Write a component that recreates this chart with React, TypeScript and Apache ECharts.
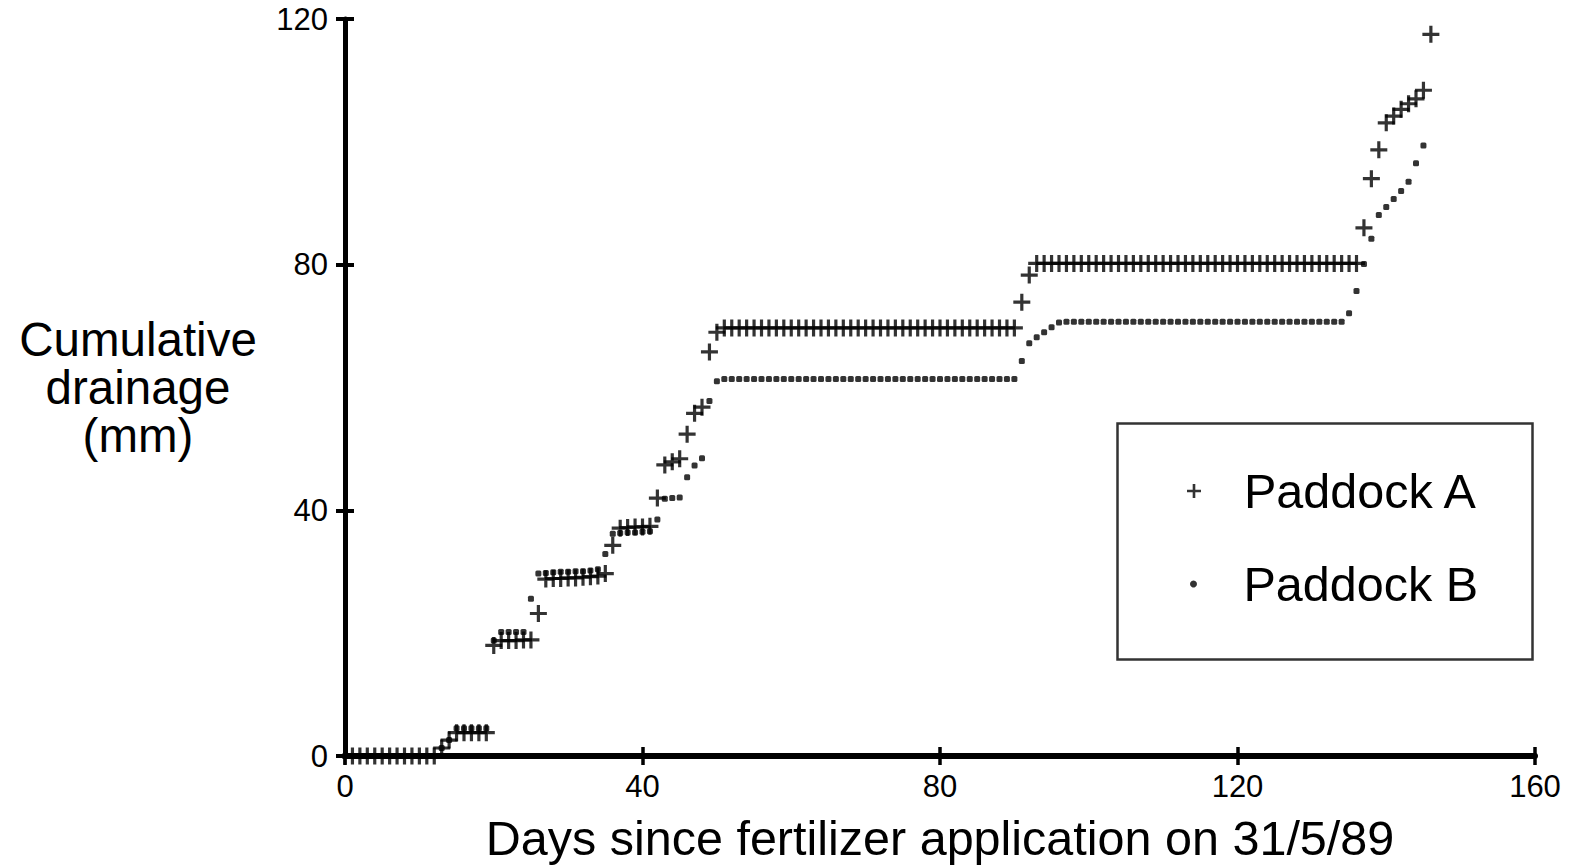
import React, { useEffect, useRef } from "react";
import * as echarts from "echarts";

const seriesNames = ["Paddock A", "Paddock B"];
const xTickValues = [0, 40, 80, 120, 160];
const yTickValues = [0, 40, 80, 120];
const xTitle = "Days since fertilizer application on 31/5/89";
const yTitleLines = ["Cumulative", "drainage", "(mm)"];

// Cumulative drainage (mm), one value per day starting at day 0
const valuesA = [
  0, 0, 0, 0, 0, 0, 0, 0, 0, 0, 0, 0, 0,
  1.3, 2.6,
  3.8, 3.8, 3.8, 3.8, 3.8,
  18.0,
  18.8, 18.8, 18.8, 18.9, 18.9,
  23.2,
  28.8, 28.9, 28.9, 29.0, 29.0, 29.1, 29.2, 29.3, 29.7,
  34.3,
  37.1, 37.2, 37.3, 37.3, 37.4,
  42.0, 47.4, 47.9, 48.4, 52.4, 55.8, 56.8, 65.8, 69.0,
  69.7, 69.7, 69.7, 69.7, 69.7, 69.7, 69.7, 69.7, 69.7, 69.7,
  69.7, 69.7, 69.7, 69.7, 69.7, 69.7, 69.7, 69.7, 69.7, 69.7,
  69.7, 69.7, 69.7, 69.7, 69.7, 69.7, 69.7, 69.7, 69.7, 69.7,
  69.7, 69.7, 69.7, 69.7, 69.7, 69.7, 69.7, 69.7, 69.7, 69.7,
  73.9, 78.3,
  80.2, 80.2, 80.2, 80.2, 80.2, 80.2, 80.2, 80.2, 80.2, 80.2, 80.2,
  80.2, 80.2, 80.2, 80.2, 80.2, 80.2, 80.2, 80.2, 80.2, 80.2, 80.2,
  80.2, 80.2, 80.2, 80.2, 80.2, 80.2, 80.2, 80.2, 80.2, 80.2, 80.2,
  80.2, 80.2, 80.2, 80.2, 80.2, 80.2, 80.2, 80.2, 80.2, 80.2, 80.2,
  86.0, 94.0, 98.7, 103.1, 104.2, 105.3, 106.2, 107.0, 108.4, 117.5,
];

const valuesB = [
  0, 0, 0, 0, 0, 0, 0, 0, 0, 0, 0, 0, 0,
  1.3, 2.6,
  4.5, 4.5, 4.5, 4.5, 4.5,
  18.8,
  20.2, 20.2, 20.2, 20.2,
  25.6,
  29.7, 29.8, 29.9, 30.0, 30.0, 30.1, 30.1, 30.2, 30.4,
  32.9,
  36.2, 36.3, 36.4, 36.4, 36.5, 36.6,
  38.5, 41.9, 42.0, 42.1, 45.4, 47.3, 48.5, 57.8, 61.0,
  61.4, 61.4, 61.4, 61.4, 61.4, 61.4, 61.4, 61.4, 61.4, 61.4,
  61.4, 61.4, 61.4, 61.4, 61.4, 61.4, 61.4, 61.4, 61.4, 61.4,
  61.4, 61.4, 61.4, 61.4, 61.4, 61.4, 61.4, 61.4, 61.4, 61.4,
  61.4, 61.4, 61.4, 61.4, 61.4, 61.4, 61.4, 61.4, 61.4, 61.4,
  64.3, 67.2, 68.2, 69.0, 69.8, 70.6,
  70.7, 70.7, 70.7, 70.7, 70.7, 70.7, 70.7, 70.7, 70.7, 70.7,
  70.7, 70.7, 70.7, 70.7, 70.7, 70.7, 70.7, 70.7, 70.7, 70.7,
  70.7, 70.7, 70.7, 70.7, 70.7, 70.7, 70.7, 70.7, 70.7, 70.7,
  70.7, 70.7, 70.7, 70.7, 70.7, 70.7, 70.7, 70.7,
  72.1, 75.7, 80.1, 84.2, 88.1, 89.4, 90.7, 92.0, 93.5, 96.5, 99.4,
];

const PLUS = "path://M6.5,0H9.5V6.5H16V9.5H9.5V16H6.5V9.5H0V6.5H6.5Z";
const FONT = "'Liberation Sans', Arial, Helvetica, sans-serif";

export default function App() {
  const ref = useRef<HTMLDivElement>(null);
  useEffect(() => {
    document.body.style.margin = "0";
    const chart = echarts.init(ref.current as HTMLDivElement, null, { renderer: "svg" });
    const dataA = valuesA.map((v, i) => [i, v]);
    const dataB = valuesB.map((v, i) => [i, v]);
    const xMin = xTickValues[0];
    const xMax = xTickValues[xTickValues.length - 1];
    const xInt = xTickValues[1] - xTickValues[0];
    const yMin = yTickValues[0];
    const yMax = yTickValues[yTickValues.length - 1];
    const yInt = yTickValues[1] - yTickValues[0];

    chart.setOption({
      animation: false,
      backgroundColor: "#fff",
      textStyle: { fontFamily: FONT, color: "#000" },
      grid: { left: 345, right: 39, top: 19, bottom: 112, containLabel: false },
      xAxis: [
        {
          type: "value", min: xMin, max: xMax, interval: xInt, position: "bottom",
          axisLine: { show: true, lineStyle: { color: "#000", width: 6 } },
          axisTick: { show: true, length: 9, lineStyle: { color: "#000", width: 3.5 } },
          axisLabel: { fontSize: 31, margin: 15, color: "#000", fontFamily: FONT },
          splitLine: { show: false },
          name: xTitle, nameLocation: "middle", nameGap: 82,
          nameTextStyle: { fontSize: 48.5, color: "#000", fontFamily: FONT, verticalAlign: "middle" },
        },
        {
          type: "value", min: xMin, max: xMax, interval: xInt, position: "bottom",
          axisLine: { show: false },
          axisTick: { show: true, inside: true, length: 9, lineStyle: { color: "#000", width: 3.5 } },
          axisLabel: { show: false }, splitLine: { show: false },
        },
      ],
      yAxis: [
        {
          type: "value", min: yMin, max: yMax, interval: yInt, position: "left",
          axisLine: { show: true, lineStyle: { color: "#000", width: 5 } },
          axisTick: { show: true, length: 9, lineStyle: { color: "#000", width: 4 } },
          axisLabel: { fontSize: 31, margin: 17, color: "#000", fontFamily: FONT },
          splitLine: { show: false },
          name: yTitleLines.join("\n"), nameLocation: "middle", nameRotate: 0, nameGap: 207,
          nameTextStyle: { fontSize: 47.5, lineHeight: 48, color: "#000", fontFamily: FONT, align: "center", verticalAlign: "middle" },
        },
        {
          type: "value", min: yMin, max: yMax, interval: yInt, position: "left",
          axisLine: { show: false },
          axisTick: { show: true, inside: true, length: 9, lineStyle: { color: "#000", width: 4 } },
          axisLabel: { show: false }, splitLine: { show: false },
        },
      ],
      legend: [
        {
          data: [seriesNames[0]], orient: "vertical", left: 1187, top: 463, padding: 0,
          itemWidth: 90, itemHeight: 14, selectedMode: false,
          textStyle: { fontSize: 48.5, lineHeight: 56, color: "#000", fontFamily: FONT },
        },
        {
          data: [{ name: seriesNames[1], icon: "circle" }], orient: "vertical", left: 1190, top: 556, padding: 0,
          itemWidth: 90, itemHeight: 7, selectedMode: false,
          textStyle: { fontSize: 48.5, lineHeight: 56, color: "#000", fontFamily: FONT },
        },
      ],
      graphic: [
        {
          type: "rect", left: 1115, top: 421, z: 10,
          shape: { x: 0, y: 0, width: 415, height: 236 },
          style: { fill: "none", stroke: "#333", lineWidth: 2.5 },
        },
      ],
      series: [
        {
          name: seriesNames[0], type: "scatter", xAxisIndex: 0, yAxisIndex: 0,
          symbol: PLUS, symbolSize: 17, itemStyle: { color: "#000" },
          data: dataA, clip: false,
        },
        {
          name: seriesNames[1], type: "scatter", xAxisIndex: 0, yAxisIndex: 0,
          symbol: "roundRect", symbolSize: 6, itemStyle: { color: "#000" },
          data: dataB, clip: false,
        },
      ],
    });
    return () => chart.dispose();
  }, []);
  return (
    <div
      ref={ref}
      style={{ width: 1574, height: 868, position: "absolute", left: 0, top: 0, background: "#fff" }}
    />
  );
}
